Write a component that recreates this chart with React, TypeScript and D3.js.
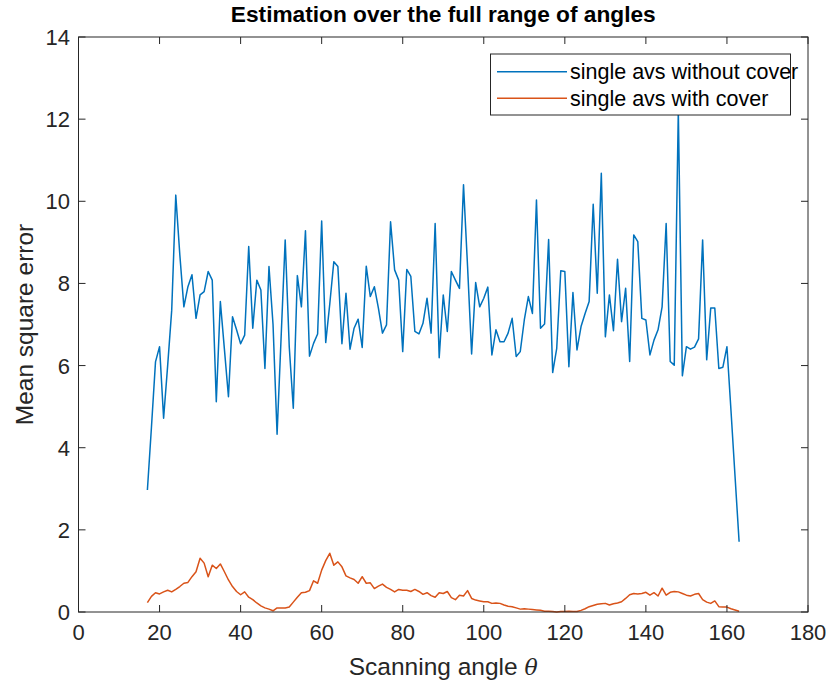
import React from "react";
import * as d3 from "d3";

const angleStart = 17;
const withoutCover: number[] = [
  2.97, 4.5, 6.09, 6.46, 4.72, 6.0, 7.35, 10.15, 8.7, 7.43,
  7.92, 8.21, 7.15, 7.72, 7.8, 8.29, 8.08, 5.12, 7.56, 6.4,
  5.24, 7.19, 6.87, 6.53, 6.74, 8.9, 6.91, 8.08, 7.84, 5.93,
  8.41, 7.0, 4.33, 6.7, 9.06, 6.46, 4.96, 8.19, 7.43, 9.28,
  6.23, 6.54, 6.77, 9.52, 6.56, 7.5, 8.53, 8.41, 6.53, 7.76,
  6.4, 6.91, 7.13, 6.44, 8.42, 7.68, 7.92, 7.4, 6.79, 6.99,
  9.5, 8.33, 8.08, 6.34, 8.34, 8.17, 6.83, 6.77, 7.03, 7.64,
  6.79, 9.46, 6.19, 7.72, 6.83, 8.29, 8.08, 7.88, 10.4, 8.41,
  6.28, 8.02, 7.43, 7.64, 7.91, 6.26, 6.87, 6.58, 6.58, 6.79,
  7.15, 6.22, 6.34, 7.11, 7.68, 7.27, 10.03, 6.91, 7.01, 9.07,
  5.83, 6.42, 8.31, 8.29, 5.97, 7.78, 6.38, 6.95, 7.27, 7.56,
  9.93, 7.76, 10.68, 6.7, 7.72, 6.85, 8.59, 7.07, 7.88, 6.1,
  9.18, 9.02, 7.15, 7.11, 6.26, 6.62, 6.87, 7.43, 9.46, 6.1,
  6.01, 12.2, 5.75, 6.46, 6.4, 6.45, 6.65, 9.06, 6.14, 7.4,
  7.4, 5.93, 5.96, 6.46, 4.9, 3.3, 1.71,
];
const withCover: number[] = [
  0.23, 0.38, 0.47, 0.44, 0.49, 0.53, 0.49, 0.55, 0.62, 0.7,
  0.72, 0.86, 0.98, 1.31, 1.19, 0.86, 1.14, 1.06, 1.17, 0.98,
  0.78, 0.62, 0.5, 0.42, 0.49, 0.36, 0.3, 0.22, 0.15, 0.1,
  0.07, 0.03, 0.1, 0.1, 0.1, 0.12, 0.24, 0.36, 0.47, 0.48,
  0.52, 0.76, 0.7, 1.02, 1.25, 1.43, 1.14, 1.22, 1.1, 0.88,
  0.83, 0.79, 0.7, 0.86, 0.7, 0.71, 0.57, 0.63, 0.68, 0.6,
  0.55, 0.49, 0.55, 0.53, 0.53, 0.5, 0.55, 0.5, 0.43, 0.47,
  0.4, 0.36, 0.47, 0.45, 0.5, 0.35, 0.3, 0.41, 0.39, 0.52,
  0.33, 0.29, 0.27, 0.25, 0.25, 0.21, 0.22, 0.21, 0.17, 0.14,
  0.13, 0.1, 0.07, 0.08, 0.07, 0.06, 0.05, 0.04, 0.02, 0.02,
  0.01, 0.0, 0.01, 0.01, 0.02, 0.01, 0.01, 0.04, 0.08, 0.13,
  0.16, 0.19, 0.2, 0.21, 0.17, 0.2, 0.22, 0.25, 0.33, 0.42,
  0.45, 0.44, 0.45, 0.48, 0.41, 0.47, 0.39, 0.58, 0.41, 0.48,
  0.5, 0.49, 0.45, 0.41, 0.39, 0.43, 0.45, 0.3, 0.24, 0.21,
  0.27, 0.13, 0.12, 0.12, 0.08, 0.05, 0.02,
];
const xTicks = [0, 20, 40, 60, 80, 100, 120, 140, 160, 180];
const yTicks = [0, 2, 4, 6, 8, 10, 12, 14];
const seriesNames = ["single avs without cover", "single avs with cover"];
const seriesColors = ["#0072BD", "#D95319"];
const title = "Estimation over the full range of angles";
const yLabel = "Mean square error";

const W = 831;
const H = 685;
const L = 78.5, R = 808, T = 37, B = 612;
const FONT = "'Liberation Sans', Arial, Helvetica, sans-serif";
const AX = "#262626";

export default function App() {
  const x = d3.scaleLinear().domain([0, 180]).range([L, R]);
  const y = d3.scaleLinear().domain([0, 14]).range([B, T]);
  const line = d3
    .line<number>()
    .x((_, i) => x(angleStart + i))
    .y((d) => y(d));
  const series = [withoutCover, withCover];
  const tl = 7;
  const tickFont = 22;

  return (
    <svg
      width={W}
      height={H}
      style={{ position: "absolute", left: 0, top: 0, background: "#fff" }}
    >
      <rect x={0} y={0} width={W} height={H} fill="#fff" />
      {series.map((s, i) => (
        <path
          key={i}
          d={line(s) || ""}
          fill="none"
          stroke={seriesColors[i]}
          strokeWidth={1.5}
          strokeLinejoin="round"
        />
      ))}
      <rect x={L} y={T} width={R - L} height={B - T} fill="none" stroke={AX} strokeWidth={1} />
      {xTicks.map((t) => (
        <g key={"x" + t}>
          <line x1={x(t)} x2={x(t)} y1={B} y2={B - tl} stroke={AX} />
          <line x1={x(t)} x2={x(t)} y1={T} y2={T + tl} stroke={AX} />
          <text x={x(t)} y={640} textAnchor="middle" fontSize={tickFont} fontFamily={FONT} fill={AX}>
            {t}
          </text>
        </g>
      ))}
      {yTicks.map((t) => (
        <g key={"y" + t}>
          <line x1={L} x2={L + tl} y1={y(t)} y2={y(t)} stroke={AX} />
          <line x1={R} x2={R - tl} y1={y(t)} y2={y(t)} stroke={AX} />
          <text x={70} y={y(t) + 8} textAnchor="end" fontSize={tickFont} fontFamily={FONT} fill={AX}>
            {t}
          </text>
        </g>
      ))}
      <text
        x={(L + R) / 2}
        y={22}
        textAnchor="middle"
        fontSize={22.7}
        fontWeight="bold"
        fontFamily={FONT}
        fill="#000"
      >
        {title}
      </text>
      <text x={(L + R) / 2} y={675} textAnchor="middle" fontSize={24.5} fontFamily={FONT} fill={AX}>
        Scanning angle{" "}
        <tspan fontStyle="italic" fontFamily="'DejaVu Serif', 'Liberation Serif', serif" fontSize={22}>
          θ
        </tspan>
      </text>
      <text
        transform={`translate(33,${(T + B) / 2}) rotate(-90)`}
        textAnchor="middle"
        fontSize={24.5}
        fontFamily={FONT}
        fill={AX}
      >
        {yLabel}
      </text>
      <rect x={490.5} y={54} width={300} height={61} fill="#fff" stroke={AX} strokeWidth={1} />
      {seriesNames.map((n, i) => (
        <g key={n}>
          <line
            x1={497}
            x2={567}
            y1={71.7 + i * 26.6}
            y2={71.7 + i * 26.6}
            stroke={seriesColors[i]}
            strokeWidth={1.5}
          />
          <text
            x={570}
            y={71.7 + i * 26.6 + 7.5}
            fontSize={21.5}
            fontFamily={FONT}
            fill="#000"
          >
            {n}
          </text>
        </g>
      ))}
    </svg>
  );
}
